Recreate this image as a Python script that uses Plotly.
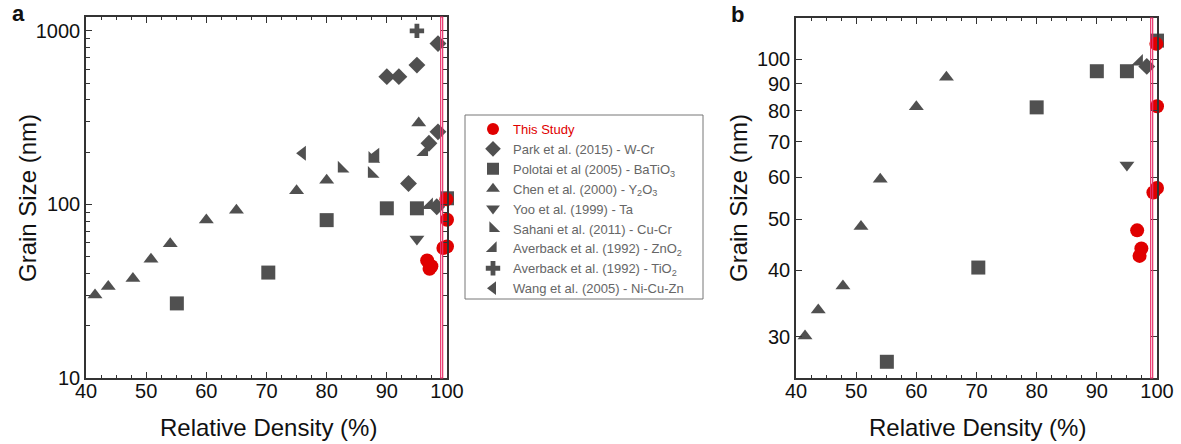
import plotly.graph_objects as go
import numpy as np

# ---------------- data ----------------
study_x = [96.7, 97.1, 97.4, 99.4, 100.0, 100.0, 99.9]
study_y = [47.6, 42.6, 44.0, 56.1, 57.2, 81.6, 107.0]

park_x = [90.0, 92.0, 95.0, 98.5, 98.5, 97.0, 93.6, 98.3]
park_y = [545, 545, 635, 845, 262, 225, 132, 97]

polotai_x = [55.1, 70.3, 80.0, 90.0, 95.0, 100.0]
polotai_y = [26.9, 40.5, 81.2, 95.0, 95.0, 108.5]

chen_x = [41.5, 43.7, 47.8, 50.8, 54.0, 60.0, 65.0, 75.0, 80.0, 95.3]
chen_y = [30.1, 33.7, 37.4, 48.4, 59.4, 81.4, 92.5, 120, 138, 295]

yoo_x = [95.0]
yoo_y = [63.2]

sahani_x = [82.5, 87.5, 87.6]
sahani_y = [161, 150, 183]

znO_x = [96.2, 97.0]
znO_y = [200, 99]

tio2_x = [95.0]
tio2_y = [1000]

wang_x = [76.0, 88.2]
wang_y = [197, 192]

x_ticks = [40, 50, 60, 70, 80, 90, 100]
ya_ticks = [10, 100, 1000]
ya_minor = [20, 30, 40, 50, 60, 70, 80, 90, 200, 300, 400, 500, 600, 700, 800, 900]
yb_ticks = [30, 40, 50, 60, 70, 80, 90, 100]

# ---------------- style ----------------
GREY = "#505050"
RED = "#e00000"
FONT = "Liberation Sans, Arial, sans-serif"
TXT = "#111111"

series = [
    ("<span style='color:#e00000'>This Study</span>", study_x, study_y, "circle", RED, 14),
    ("Park et al. (2015) - W-Cr", park_x, park_y, "diamond", GREY, 13),
    ("Polotai et al (2005) - BaTiO<sub>3</sub>", polotai_x, polotai_y, "square", GREY, 14),
    ("Chen et al. (2000) - Y<sub>2</sub>O<sub>3</sub>", chen_x, chen_y, "triangle-up", GREY, 13),
    ("Yoo et al. (1999) - Ta", yoo_x, yoo_y, "triangle-down", GREY, 13),
    ("Sahani et al. (2011) - Cu-Cr", sahani_x, sahani_y, "triangle-sw", GREY, 13),
    ("Averback et al. (1992) - ZnO<sub>2</sub>", znO_x, znO_y, "triangle-se", GREY, 13),
    ("Averback et al. (1992) - TiO<sub>2</sub>", tio2_x, tio2_y, "cross", GREY, 12),
    ("Wang et al. (2005) - Ni-Cu-Zn", wang_x, wang_y, "triangle-left", GREY, 13),
]

W, H = 1181, 444
fig = go.Figure()

YB_LO, YB_HI = 25.07, 119.7

traces_a, traces_b = [], []
for i, (name, xs, ys, sym, col, sz) in enumerate(series):
    ta = go.Scatter(
        x=xs, y=ys, mode="markers", name=name, xaxis="x", yaxis="y",
        marker=dict(symbol=sym, color=col, size=sz, line=dict(width=0)),
        cliponaxis=False, legendrank=i + 1, showlegend=True)
    xb = [a for a, b in zip(xs, ys) if YB_LO <= b <= 119]
    yb = [b for b in ys if YB_LO <= b <= 119]
    tb = go.Scatter(
        x=xb, y=yb, mode="markers", name=name, xaxis="x2", yaxis="y2",
        marker=dict(symbol=sym, color=col, size=sz, line=dict(width=0)),
        cliponaxis=False, showlegend=False)
    traces_a.append(ta)
    traces_b.append(tb)

# draw grey first, red (This Study) on top
for t in traces_a[1:] + traces_b[1:] + traces_a[:1] + traces_b[:1]:
    fig.add_trace(t)

axis_common = dict(
    showline=True, linecolor="#333333", linewidth=1.5, mirror="allticks",
    ticks="inside", tickcolor="#333333", tickwidth=1.2, showgrid=False, zeroline=False,
    tickfont=dict(family=FONT, size=20, color=TXT),
    automargin=False,
)

xa = dict(axis_common, range=[40, 100], tickvals=x_ticks, ticklen=6, ticklabelstandoff=-6,
          minor=dict(dtick=2.5, tick0=40, ticks="inside", ticklen=3.5, tickcolor="#333333", showgrid=False))

fig.update_layout(
    width=W, height=H,
    margin=dict(l=0, r=0, t=0, b=0),
    paper_bgcolor="white", plot_bgcolor="white",
    font=dict(family=FONT),
    xaxis=dict(xa, domain=[86 / W, 447 / W], anchor="y"),
    xaxis2=dict(xa, domain=[796 / W, 1157 / W], anchor="y2"),
    yaxis=dict(axis_common, type="log", range=[1, 3.08], tickvals=ya_ticks, ticktext=["10", "100", "1000"],
               ticklen=6, domain=[1 - 378 / H, 1 - 17 / H], anchor="x",
               minor=dict(tickvals=ya_minor, ticks="inside", ticklen=4, tickcolor="#333333", showgrid=False)),
    yaxis2=dict(axis_common, type="log", range=[np.log10(YB_LO), np.log10(YB_HI)], tickvals=yb_ticks,
                ticktext=[str(v) for v in yb_ticks], ticklen=6,
                domain=[1 - 378 / H, 1 - 18 / H], anchor="x2"),
    legend=dict(x=473 / W, y=1 - 114 / H, xanchor="left", yanchor="top",
                borderwidth=0, bgcolor="rgba(0,0,0,0)",
                font=dict(family=FONT, size=13, color="#666666"),
                itemsizing="constant", tracegroupgap=0),
    showlegend=True,
)

# legend frame
fig.add_shape(type="rect", xref="paper", yref="paper",
              x0=465 / W, x1=703 / W, y0=1 - 299 / H, y1=1 - 115 / H,
              line=dict(color="#777777", width=1), fillcolor="rgba(0,0,0,0)", layer="above")

for xr, yr in [("x", "y domain"), ("x2", "y2 domain")]:
    fig.add_shape(type="rect", xref=xr, yref=yr,
                  x0=98.95, x1=99.28, y0=0, y1=1, line=dict(color="#e8306a", width=1.2),
                  fillcolor="rgba(0,0,0,0)", layer="above")

def ann(text, px, py, size, angle=0, bold=False):
    fig.add_annotation(text=(f"<b>{text}</b>" if bold else text), x=px / W, y=1 - py / H,
                       xref="paper", yref="paper", xanchor="center", yanchor="middle",
                       showarrow=False, textangle=angle,
                       font=dict(family=FONT, size=size, color=TXT))

ann("a", 19, 13, 22, bold=True)
ann("b", 737, 14, 22, bold=True)
ann("Relative Density (%)", 268, 427, 24)
ann("Relative Density (%)", 977, 427, 24)
ann("Grain Size (nm)", 27, 198, 24, angle=-90)
ann("Grain Size (nm)", 738, 198, 24, angle=-90)

fig.write_html("out.html", config={"displayModeBar": False},
               post_script="document.body.style.margin='0px';")
